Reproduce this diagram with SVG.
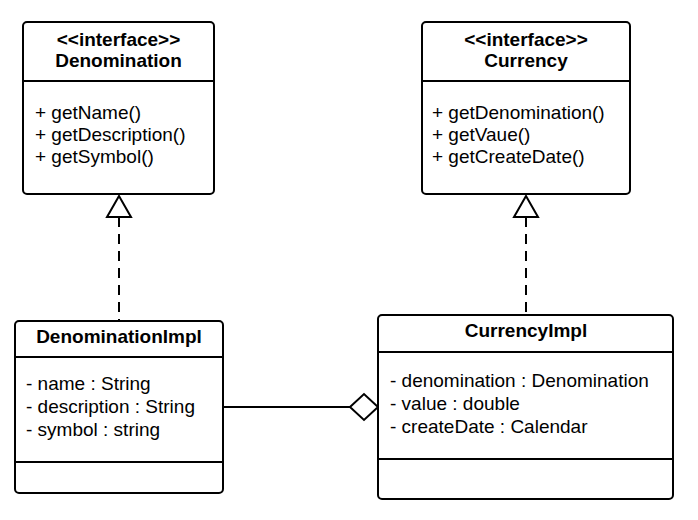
<svg xmlns="http://www.w3.org/2000/svg" width="698" height="520" viewBox="0 0 698 520">
<style>
.box{fill:#fff;stroke:#000;stroke-width:2}
.div{stroke:#000;stroke-width:2;fill:none}
text{font-family:"Liberation Sans",Arial,sans-serif;font-size:19px;fill:#000}
.t{font-weight:bold;text-anchor:middle}
.conn{stroke:#000;stroke-width:2;fill:none}
.dash{stroke-dasharray:10,7}
.head{fill:#fff;stroke:#000;stroke-width:2;stroke-linejoin:miter}
</style>
<rect width="698" height="520" fill="#fff"/>
<g id="connectors">
<line class="conn dash" x1="119" y1="217" x2="119" y2="321"/>
<polygon class="head" points="119,196 107,217 131,217"/>
<line class="conn dash" x1="526" y1="217" x2="526" y2="315"/>
<polygon class="head" points="526,196 514,217 538,217"/>
<line class="conn" x1="223" y1="407" x2="350" y2="407"/>
<polygon class="head" points="350,407 364,394 378,407 364,420"/>
</g>
<g id="Denomination">
<rect class="box" x="23" y="22" width="191" height="172" rx="4"/>
<line class="div" x1="23" y1="81" x2="214" y2="81"/>
<text class="t" x="118.5" y="46">&lt;&lt;interface&gt;&gt;</text>
<text class="t" x="118.5" y="67">Denomination</text>
<text x="35" y="119">+ getName()</text>
<text x="35" y="141">+ getDescription()</text>
<text x="35" y="163">+ getSymbol()</text>
</g>
<g id="Currency">
<rect class="box" x="422" y="22" width="208" height="172" rx="4"/>
<line class="div" x1="422" y1="81" x2="630" y2="81"/>
<text class="t" x="526" y="46">&lt;&lt;interface&gt;&gt;</text>
<text class="t" x="526" y="67">Currency</text>
<text x="432" y="119">+ getDenomination()</text>
<text x="432" y="141">+ getVaue()</text>
<text x="432" y="163">+ getCreateDate()</text>
</g>
<g id="DenominationImpl">
<rect class="box" x="15" y="321" width="208" height="172" rx="4"/>
<line class="div" x1="15" y1="357" x2="223" y2="357"/>
<line class="div" x1="15" y1="462" x2="223" y2="462"/>
<text class="t" x="119" y="343">DenominationImpl</text>
<text x="26" y="390">- name : String</text>
<text x="26" y="413">- description : String</text>
<text x="26" y="436">- symbol : string</text>
</g>
<g id="CurrencyImpl">
<rect class="box" x="378" y="315" width="295" height="184" rx="4"/>
<line class="div" x1="378" y1="352" x2="673" y2="352"/>
<line class="div" x1="378" y1="459" x2="673" y2="459"/>
<text class="t" x="526" y="337">CurrencyImpl</text>
<text x="390" y="387">- denomination : Denomination</text>
<text x="390" y="410">- value : double</text>
<text x="390" y="433">- createDate : Calendar</text>
</g>
</svg>
